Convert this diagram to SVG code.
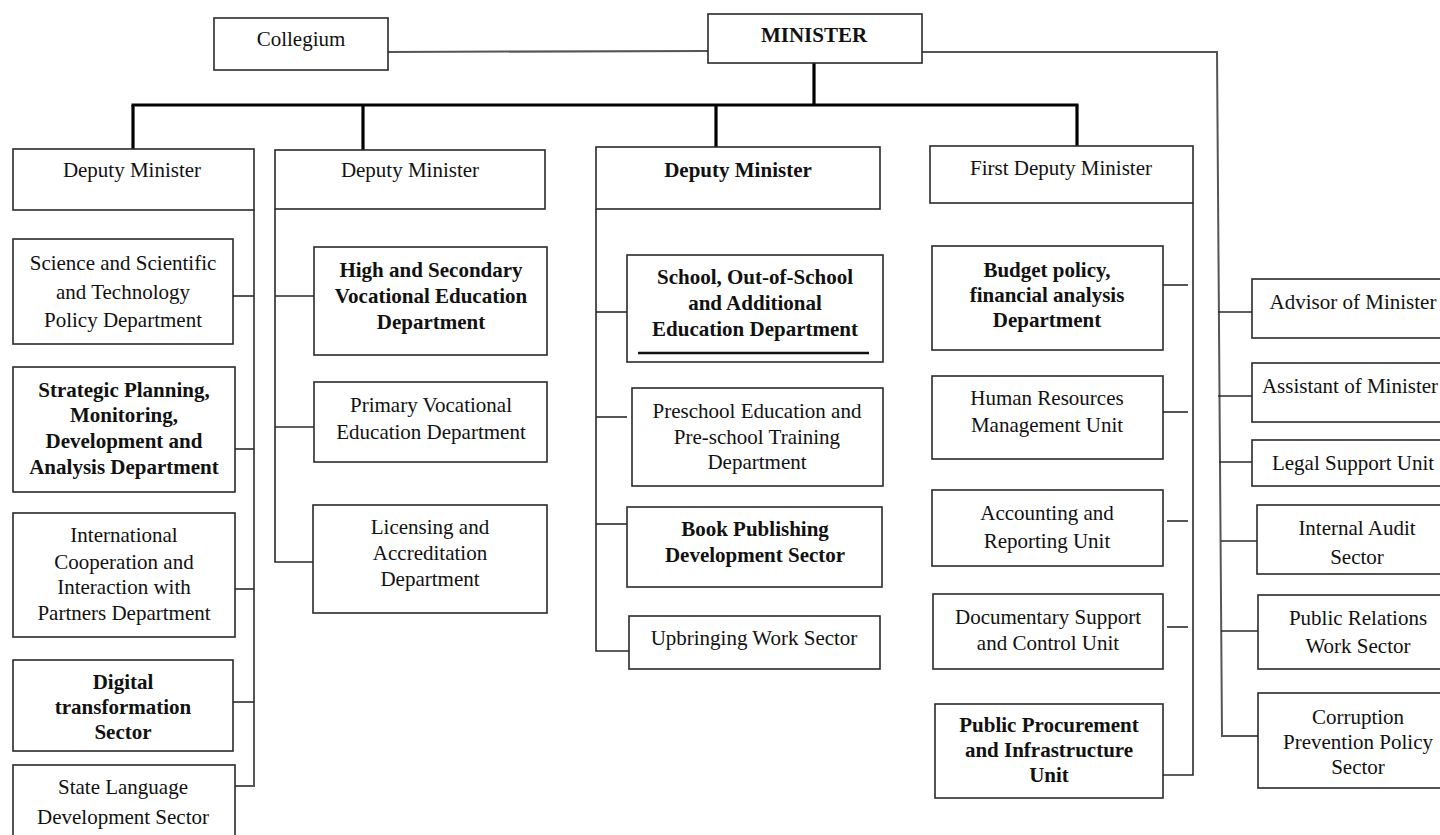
<svg xmlns="http://www.w3.org/2000/svg" width="1440" height="835" viewBox="0 0 1440 835">
  <style>
    .box { fill: #fff; stroke: #2a2a2a; stroke-width: 1.6; }
    .t { font-family: "Liberation Serif", "Times New Roman", serif; font-size: 21px; text-anchor: middle; fill: #111; }
    .b { font-weight: bold; }
    .ln { fill: none; stroke: #2a2a2a; stroke-width: 1.6; }
    .gr { fill: none; stroke: #555; stroke-width: 2; }
    .bus { fill: none; stroke: #000; stroke-width: 3.2; }
  </style>
  <rect width="1440" height="835" fill="#fff"/>

  <!-- connectors -->
  <g id="connectors">
    <!-- minister level -->
    <line class="gr" x1="388" y1="52" x2="708" y2="51"/>
    <polyline class="gr" points="922,52 1217,52 1222,736 1258,736"/>
    <line class="bus" x1="814" y1="63" x2="814" y2="105"/>
    <line class="bus" x1="131.5" y1="105" x2="1078.5" y2="105"/>
    <line class="bus" x1="133" y1="105" x2="133" y2="149"/>
    <line class="bus" x1="363" y1="105" x2="363" y2="150"/>
    <line class="bus" x1="716" y1="105" x2="716" y2="147"/>
    <line class="bus" x1="1077" y1="105" x2="1077" y2="146"/>
    <!-- staff units -->
    <line class="ln" x1="1218" y1="312" x2="1252" y2="312"/>
    <line class="ln" x1="1218" y1="396" x2="1252" y2="396"/>
    <line class="ln" x1="1219" y1="462" x2="1252" y2="462"/>
    <line class="ln" x1="1221" y1="541" x2="1257" y2="541"/>
    <line class="ln" x1="1221" y1="631" x2="1258" y2="631"/>
    <!-- deputy minister 1 -->
    <polyline class="gr" points="254,210 254,786 233,786"/>
    <line class="ln" x1="233" y1="296" x2="254" y2="296"/>
    <line class="ln" x1="235" y1="449" x2="254" y2="449"/>
    <line class="ln" x1="235" y1="589" x2="254" y2="589"/>
    <line class="ln" x1="233" y1="702" x2="254" y2="702"/>
    <!-- deputy minister 2 -->
    <polyline class="ln" points="275,209 275,562 313,562"/>
    <line class="ln" x1="275" y1="296" x2="314" y2="296"/>
    <line class="ln" x1="275" y1="427" x2="314" y2="427"/>
    <!-- deputy minister 3 -->
    <polyline class="ln" points="596,209 596,651 629,651"/>
    <line class="ln" x1="596" y1="312" x2="627" y2="312"/>
    <line class="ln" x1="596" y1="417" x2="627" y2="417"/>
    <line class="ln" x1="596" y1="524" x2="627" y2="524"/>
    <!-- first deputy minister -->
    <polyline class="ln" points="1193,203 1193,775 1163,775"/>
    <line class="ln" x1="1160" y1="285" x2="1188" y2="285"/>
    <line class="ln" x1="1163" y1="412" x2="1188" y2="412"/>
    <line class="ln" x1="1167" y1="521" x2="1188" y2="521"/>
    <line class="ln" x1="1167" y1="627" x2="1188" y2="627"/>
  </g>

  <!-- top level -->
  <g id="collegium">
    <rect class="box" x="214" y="18" width="174" height="52"/>
    <text class="t" x="301" y="46">Collegium</text>
  </g>
  <g id="minister">
    <rect class="box" x="708" y="14" width="214" height="49"/>
    <text class="t b" x="814" y="42">MINISTER</text>
  </g>

  <!-- deputy minister 1 -->
  <g id="deputy1">
    <rect class="box" x="13" y="149" width="241" height="61"/>
    <text class="t" x="132" y="177">Deputy Minister</text>
  </g>
  <g id="science">
    <rect class="box" x="13" y="239" width="220" height="105"/>
    <text class="t" x="123" y="270">Science and Scientific</text>
    <text class="t" x="123" y="299">and Technology</text>
    <text class="t" x="123" y="327">Policy Department</text>
  </g>
  <g id="strategic">
    <rect class="box" x="13" y="367" width="222" height="125"/>
    <text class="t b" x="124" y="397">Strategic Planning,</text>
    <text class="t b" x="124" y="422">Monitoring,</text>
    <text class="t b" x="124" y="448">Development and</text>
    <text class="t b" x="124" y="474">Analysis Department</text>
  </g>
  <g id="international">
    <rect class="box" x="13" y="513" width="222" height="124"/>
    <text class="t" x="124" y="542">International</text>
    <text class="t" x="124" y="569">Cooperation and</text>
    <text class="t" x="124" y="594">Interaction with</text>
    <text class="t" x="124" y="620">Partners Department</text>
  </g>
  <g id="digital">
    <rect class="box" x="13" y="660" width="220" height="91"/>
    <text class="t b" x="123" y="689">Digital</text>
    <text class="t b" x="123" y="714">transformation</text>
    <text class="t b" x="123" y="739">Sector</text>
  </g>
  <g id="language">
    <rect class="box" x="13" y="765" width="222" height="80"/>
    <text class="t" x="123" y="794">State Language</text>
    <text class="t" x="123" y="824">Development Sector</text>
  </g>

  <!-- deputy minister 2 -->
  <g id="deputy2">
    <rect class="box" x="275" y="150" width="270" height="59"/>
    <text class="t" x="410" y="177">Deputy Minister</text>
  </g>
  <g id="high-secondary">
    <rect class="box" x="314" y="247" width="233" height="108"/>
    <text class="t b" x="431" y="277">High and Secondary</text>
    <text class="t b" x="431" y="303">Vocational Education</text>
    <text class="t b" x="431" y="329">Department</text>
  </g>
  <g id="primary">
    <rect class="box" x="314" y="382" width="233" height="80"/>
    <text class="t" x="431" y="412">Primary Vocational</text>
    <text class="t" x="431" y="439">Education Department</text>
  </g>
  <g id="licensing">
    <rect class="box" x="313" y="505" width="234" height="108"/>
    <text class="t" x="430" y="534">Licensing and</text>
    <text class="t" x="430" y="560">Accreditation</text>
    <text class="t" x="430" y="586">Department</text>
  </g>

  <!-- deputy minister 3 -->
  <g id="deputy3">
    <rect class="box" x="596" y="147" width="284" height="62"/>
    <text class="t b" x="738" y="177">Deputy Minister</text>
  </g>
  <g id="school">
    <rect class="box" x="627" y="255" width="256" height="107"/>
    <text class="t b" x="755" y="284">School, Out-of-School</text>
    <text class="t b" x="755" y="310">and Additional</text>
    <text class="t b" x="755" y="336">Education Department</text>
    <line x1="638" y1="353" x2="869" y2="353" stroke="#111" stroke-width="2.6"/>
  </g>
  <g id="preschool">
    <rect class="box" x="632" y="388" width="251" height="98"/>
    <text class="t" x="757" y="418">Preschool Education and</text>
    <text class="t" x="757" y="444">Pre-school Training</text>
    <text class="t" x="757" y="469">Department</text>
  </g>
  <g id="book-publishing">
    <rect class="box" x="627" y="507" width="255" height="80"/>
    <text class="t b" x="755" y="536">Book Publishing</text>
    <text class="t b" x="755" y="562">Development Sector</text>
  </g>
  <g id="upbringing">
    <rect class="box" x="629" y="616" width="251" height="53"/>
    <text class="t" x="754" y="645">Upbringing Work Sector</text>
  </g>

  <!-- first deputy minister -->
  <g id="first-deputy">
    <rect class="box" x="930" y="146" width="263" height="57"/>
    <text class="t" x="1061" y="175">First Deputy Minister</text>
  </g>
  <g id="budget">
    <rect class="box" x="932" y="246" width="231" height="104"/>
    <text class="t b" x="1047" y="277">Budget policy,</text>
    <text class="t b" x="1047" y="302">financial analysis</text>
    <text class="t b" x="1047" y="327">Department</text>
  </g>
  <g id="human-resources">
    <rect class="box" x="932" y="376" width="231" height="83"/>
    <text class="t" x="1047" y="405">Human Resources</text>
    <text class="t" x="1047" y="432">Management Unit</text>
  </g>
  <g id="accounting">
    <rect class="box" x="932" y="490" width="231" height="76"/>
    <text class="t" x="1047" y="520">Accounting and</text>
    <text class="t" x="1047" y="548">Reporting Unit</text>
  </g>
  <g id="documentary">
    <rect class="box" x="933" y="594" width="230" height="75"/>
    <text class="t" x="1048" y="624">Documentary Support</text>
    <text class="t" x="1048" y="650">and Control Unit</text>
  </g>
  <g id="procurement">
    <rect class="box" x="935" y="704" width="228" height="94"/>
    <text class="t b" x="1049" y="732">Public Procurement</text>
    <text class="t b" x="1049" y="757">and Infrastructure</text>
    <text class="t b" x="1049" y="782">Unit</text>
  </g>

  <!-- staff units of the minister -->
  <g id="advisor">
    <rect class="box" x="1252" y="279" width="200" height="59"/>
    <text class="t" x="1353" y="309">Advisor of Minister</text>
  </g>
  <g id="assistant">
    <rect class="box" x="1252" y="363" width="200" height="59"/>
    <text class="t" x="1350" y="393">Assistant of Minister</text>
  </g>
  <g id="legal">
    <rect class="box" x="1252" y="440" width="200" height="46"/>
    <text class="t" x="1353" y="470">Legal Support Unit</text>
  </g>
  <g id="audit">
    <rect class="box" x="1257" y="505" width="195" height="69"/>
    <text class="t" x="1357" y="535">Internal Audit</text>
    <text class="t" x="1357" y="564">Sector</text>
  </g>
  <g id="public-relations">
    <rect class="box" x="1258" y="595" width="194" height="74"/>
    <text class="t" x="1358" y="625">Public Relations</text>
    <text class="t" x="1358" y="653">Work Sector</text>
  </g>
  <g id="corruption">
    <rect class="box" x="1258" y="693" width="194" height="95"/>
    <text class="t" x="1358" y="724">Corruption</text>
    <text class="t" x="1358" y="749">Prevention Policy</text>
    <text class="t" x="1358" y="774">Sector</text>
  </g>
</svg>
